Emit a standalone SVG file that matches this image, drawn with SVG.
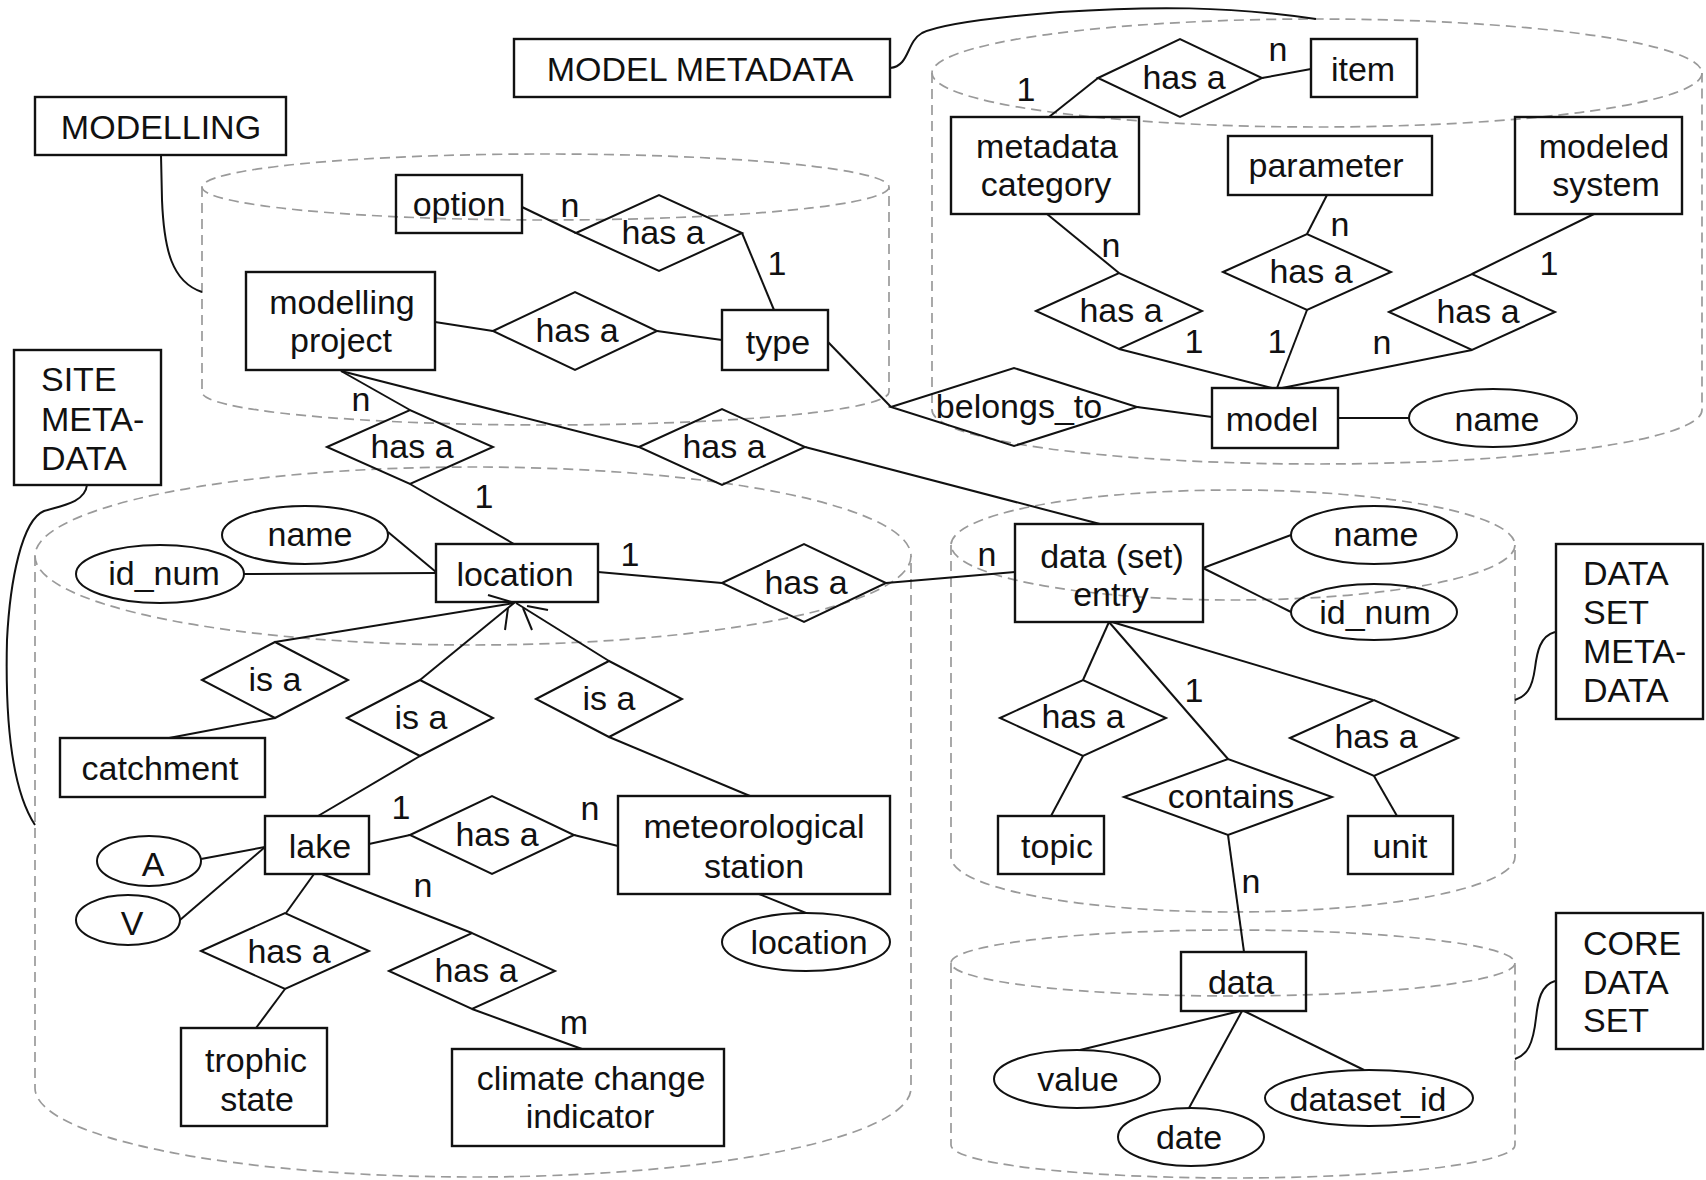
<svg xmlns="http://www.w3.org/2000/svg" width="1706" height="1180" viewBox="0 0 1706 1180">
<style>
.bg{fill:#fff}
.cyl{fill:none;stroke:#9a9a9a;stroke-width:1.7;stroke-dasharray:10 6}
.box{fill:none;stroke:#111;stroke-width:2.4}
.rel{fill:none;stroke:#111;stroke-width:2}
.att{fill:none;stroke:#111;stroke-width:2}
.ln{fill:none;stroke:#111;stroke-width:2}
text{font-family:"Liberation Sans",Arial,sans-serif;font-size:34px;fill:#111}
.c{text-anchor:middle}
</style>
<rect class="bg" x="0" y="0" width="1706" height="1180"/>

<g id="containers">
  <g id="cyl-modelling">
    <ellipse class="cyl" cx="545.5" cy="187" rx="343.5" ry="33"/>
    <path class="cyl" d="M202 187 L202 392 A343.5 33 0 0 0 889 392 L889 187"/>
  </g>
  <g id="cyl-model-metadata">
    <ellipse class="cyl" cx="1317" cy="73" rx="385" ry="54"/>
    <path class="cyl" d="M932 73 L932 410 A385 54 0 0 0 1702 410 L1702 73"/>
  </g>
  <g id="cyl-site-metadata">
    <ellipse class="cyl" cx="473" cy="556" rx="438" ry="89"/>
    <path class="cyl" d="M35 556 L35 1088 A438 89 0 0 0 911 1088 L911 556"/>
  </g>
  <g id="cyl-dataset-metadata">
    <ellipse class="cyl" cx="1233" cy="545" rx="282" ry="55"/>
    <path class="cyl" d="M951 545 L951 857 A282 55 0 0 0 1515 857 L1515 545"/>
  </g>
  <g id="cyl-core-dataset">
    <ellipse class="cyl" cx="1233" cy="963" rx="282" ry="33"/>
    <path class="cyl" d="M951 963 L951 1145 A282 33 0 0 0 1515 1145 L1515 963"/>
  </g>
</g>

<g id="connectors">
  <!-- label braces -->
  <path class="ln" d="M161 155 L162 200 C164 250 172 282 202 292"/>
  <path class="ln" d="M890 68 C910 66 906 42 922 33 C945 22 1010 16 1060 12 C1150 6 1230 6 1316 19"/>
  <path class="ln" d="M87 485 C85 503 60 506 44 511 C22 520 10 580 7 640 C5 720 12 790 35 825"/>
  <path class="ln" d="M1555 632 C1540 636 1537 652 1535 668 C1532 690 1526 696 1515 700"/>
  <path class="ln" d="M1555 981 C1541 985 1538 1000 1536 1018 C1533 1045 1527 1055 1515 1059"/>
  <!-- modelling -->
  <line class="ln" x1="522" y1="207" x2="576" y2="233"/>
  <line class="ln" x1="742" y1="233" x2="774" y2="310"/>
  <line class="ln" x1="435" y1="322" x2="493" y2="331"/>
  <line class="ln" x1="657" y1="331" x2="722" y2="340"/>
  <line class="ln" x1="828" y1="342" x2="891" y2="407"/>
  <line class="ln" x1="1137" y1="407" x2="1212" y2="417"/>
  <line class="ln" x1="341" y1="371" x2="410" y2="410"/>
  <line class="ln" x1="410" y1="484" x2="514" y2="544"/>
  <line class="ln" x1="341" y1="371" x2="639" y2="447"/>
  <line class="ln" x1="805" y1="447" x2="1100" y2="524"/>
  <!-- model metadata -->
  <line class="ln" x1="1262" y1="78" x2="1311" y2="69"/>
  <line class="ln" x1="1098" y1="78" x2="1049" y2="117"/>
  <line class="ln" x1="1047" y1="214" x2="1119" y2="273"/>
  <line class="ln" x1="1119" y1="349" x2="1272" y2="388"/>
  <line class="ln" x1="1327" y1="195" x2="1307" y2="234"/>
  <line class="ln" x1="1307" y1="310" x2="1277" y2="388"/>
  <line class="ln" x1="1594" y1="214" x2="1472" y2="274"/>
  <line class="ln" x1="1472" y1="350" x2="1282" y2="388"/>
  <line class="ln" x1="1338" y1="418" x2="1409" y2="418"/>
  <!-- site -->
  <line class="ln" x1="388" y1="532" x2="436" y2="572"/>
  <line class="ln" x1="244" y1="574" x2="436" y2="573"/>
  <line class="ln" x1="598" y1="572" x2="722" y2="583"/>
  <line class="ln" x1="886" y1="583" x2="1015" y2="572"/>
  <line class="ln" x1="169" y1="738" x2="275" y2="718"/>
  <line class="ln" x1="275" y1="642" x2="514" y2="603"/>
  <line class="ln" x1="420" y1="680" x2="514" y2="603"/>
  <line class="ln" x1="420" y1="756" x2="318" y2="816"/>
  <line class="ln" x1="609" y1="661" x2="516" y2="603"/>
  <line class="ln" x1="609" y1="737" x2="750" y2="796"/>
  <line class="ln" x1="488" y1="595" x2="515" y2="603"/>
  <line class="ln" x1="527" y1="606" x2="548" y2="610"/>
  <line class="ln" x1="508" y1="608" x2="505" y2="630"/>
  <line class="ln" x1="523" y1="608" x2="532" y2="630"/>
  <line class="ln" x1="369" y1="844" x2="410" y2="835"/>
  <line class="ln" x1="574" y1="835" x2="618" y2="846"/>
  <line class="ln" x1="201" y1="859" x2="265" y2="847"/>
  <line class="ln" x1="180" y1="920" x2="265" y2="847"/>
  <line class="ln" x1="314" y1="874" x2="286" y2="913"/>
  <line class="ln" x1="285" y1="989" x2="256" y2="1028"/>
  <line class="ln" x1="322" y1="874" x2="472" y2="933"/>
  <line class="ln" x1="472" y1="1009" x2="582" y2="1049"/>
  <line class="ln" x1="759" y1="894" x2="806" y2="913"/>
  <!-- data set -->
  <line class="ln" x1="1203" y1="568" x2="1291" y2="535"/>
  <line class="ln" x1="1203" y1="568" x2="1291" y2="612"/>
  <line class="ln" x1="1109" y1="622" x2="1083" y2="680"/>
  <line class="ln" x1="1083" y1="756" x2="1051" y2="816"/>
  <line class="ln" x1="1109" y1="622" x2="1228" y2="759"/>
  <line class="ln" x1="1112" y1="622" x2="1373" y2="700"/>
  <line class="ln" x1="1374" y1="776" x2="1397" y2="816"/>
  <line class="ln" x1="1228" y1="835" x2="1244" y2="952"/>
  <line class="ln" x1="1240" y1="1011" x2="1080" y2="1050"/>
  <line class="ln" x1="1242" y1="1011" x2="1189" y2="1108"/>
  <line class="ln" x1="1244" y1="1011" x2="1364" y2="1070"/>
  <!-- cardinalities -->
  <g class="card">
    <text class="c" x="570" y="217">n</text>
    <text class="c" x="777" y="275">1</text>
    <text class="c" x="361" y="411">n</text>
    <text class="c" x="484" y="508">1</text>
    <text class="c" x="630" y="566">1</text>
    <text class="c" x="987" y="566">n</text>
    <text class="c" x="1026" y="101">1</text>
    <text class="c" x="1278" y="61">n</text>
    <text class="c" x="1111" y="257">n</text>
    <text class="c" x="1340" y="236">n</text>
    <text class="c" x="1549" y="275">1</text>
    <text class="c" x="1194" y="353">1</text>
    <text class="c" x="1277" y="353">1</text>
    <text class="c" x="1382" y="354">n</text>
    <text class="c" x="401" y="819">1</text>
    <text class="c" x="590" y="820">n</text>
    <text class="c" x="423" y="897">n</text>
    <text class="c" x="574" y="1034">m</text>
    <text class="c" x="1194" y="702">1</text>
    <text class="c" x="1251" y="893">n</text>
  </g>
</g>

<!-- section labels -->
<g id="lbl-model-metadata"><rect class="box" x="514" y="39" width="376" height="58"/><text class="c" x="700" y="81">MODEL METADATA</text></g>
<g id="lbl-modelling"><rect class="box" x="35" y="97" width="251" height="58"/><text class="c" x="161" y="139">MODELLING</text></g>
<g id="lbl-site-metadata"><rect class="box" x="14" y="350" width="147" height="135"/><text x="41" y="391">SITE</text><text x="41" y="431">META-</text><text x="41" y="470">DATA</text></g>
<g id="lbl-dataset-metadata"><rect class="box" x="1556" y="544" width="147" height="175"/><text x="1583" y="585">DATA</text><text x="1583" y="624">SET</text><text x="1583" y="663">META-</text><text x="1583" y="702">DATA</text></g>
<g id="lbl-core-dataset"><rect class="box" x="1556" y="913" width="147" height="136"/><text x="1583" y="955">CORE</text><text x="1583" y="994">DATA</text><text x="1583" y="1032">SET</text></g>

<!-- modelling entities -->
<g id="option"><rect class="box" x="396" y="175" width="126" height="58"/><text class="c" x="459" y="216">option</text></g>
<g id="modelling-project"><rect class="box" x="246" y="272" width="189" height="98"/><text class="c" x="342" y="314">modelling</text><text class="c" x="341" y="352">project</text></g>
<g id="type"><rect class="box" x="722" y="310" width="106" height="60"/><text class="c" x="778" y="354">type</text></g>
<g id="rel-option-type"><polygon class="rel" points="576,233 659,195 742,233 659,271"/><text class="c" x="663" y="244">has a</text></g>
<g id="rel-project-type"><polygon class="rel" points="493,331 575,292 657,331 575,370"/><text class="c" x="577" y="342">has a</text></g>
<g id="rel-belongs-to"><polygon class="rel" points="891,407 1014,368 1137,407 1014,446"/><text class="c" x="1019" y="418">belongs_to</text></g>
<g id="rel-project-location"><polygon class="rel" points="327,447 410,410 493,447 410,484"/><text class="c" x="412" y="458">has a</text></g>
<g id="rel-project-dataset"><polygon class="rel" points="639,447 722,409 805,447 722,485"/><text class="c" x="724" y="458">has a</text></g>

<!-- model metadata entities -->
<g id="item"><rect class="box" x="1311" y="39" width="106" height="58"/><text class="c" x="1363" y="81">item</text></g>
<g id="metadata-category"><rect class="box" x="951" y="117" width="188" height="97"/><text class="c" x="1047" y="158">metadata</text><text class="c" x="1046" y="196">category</text></g>
<g id="parameter"><rect class="box" x="1228" y="136" width="204" height="59"/><text class="c" x="1326" y="177">parameter</text></g>
<g id="modeled-system"><rect class="box" x="1515" y="117" width="167" height="97"/><text class="c" x="1604" y="158">modeled</text><text class="c" x="1606" y="196">system</text></g>
<g id="model"><rect class="box" x="1212" y="388" width="126" height="60"/><text class="c" x="1272" y="431">model</text></g>
<g id="model-name"><ellipse class="att" cx="1493" cy="418" rx="84" ry="29"/><text class="c" x="1497" y="431">name</text></g>
<g id="rel-category-item"><polygon class="rel" points="1098,78 1180,39 1262,78 1180,117"/><text class="c" x="1184" y="89">has a</text></g>
<g id="rel-category-model"><polygon class="rel" points="1036,311 1119,273 1202,311 1119,349"/><text class="c" x="1121" y="322">has a</text></g>
<g id="rel-parameter-model"><polygon class="rel" points="1223,272 1307,234 1391,272 1307,310"/><text class="c" x="1311" y="283">has a</text></g>
<g id="rel-system-model"><polygon class="rel" points="1389,312 1472,274 1555,312 1472,350"/><text class="c" x="1478" y="323">has a</text></g>

<!-- site entities -->
<g id="location"><rect class="box" x="436" y="544" width="162" height="58"/><text class="c" x="515" y="586">location</text></g>
<g id="site-name"><ellipse class="att" cx="305" cy="535" rx="83" ry="29"/><text class="c" x="310" y="546">name</text></g>
<g id="site-id-num"><ellipse class="att" cx="160" cy="574" rx="84" ry="29"/><text class="c" x="164" y="585">id_num</text></g>
<g id="rel-location-dataset"><polygon class="rel" points="722,583 804,544 886,583 804,622"/><text class="c" x="806" y="594">has a</text></g>
<g id="catchment"><rect class="box" x="60" y="738" width="205" height="59"/><text class="c" x="160" y="780">catchment</text></g>
<g id="rel-catchment-isa"><polygon class="rel" points="202,680 275,642 348,680 275,718"/><text class="c" x="275" y="691">is a</text></g>
<g id="rel-lake-isa"><polygon class="rel" points="347,718 420,680 493,718 420,756"/><text class="c" x="421" y="729">is a</text></g>
<g id="rel-station-isa"><polygon class="rel" points="536,699 609,661 682,699 609,737"/><text class="c" x="609" y="710">is a</text></g>
<g id="lake"><rect class="box" x="265" y="816" width="104" height="58"/><text class="c" x="320" y="858">lake</text></g>
<g id="lake-a"><ellipse class="att" cx="149" cy="861" rx="52" ry="25"/><text class="c" x="153" y="876">A</text></g>
<g id="lake-v"><ellipse class="att" cx="128" cy="920" rx="52" ry="25"/><text class="c" x="132" y="935">V</text></g>
<g id="rel-lake-station"><polygon class="rel" points="410,835 492,796 574,835 492,874"/><text class="c" x="497" y="846">has a</text></g>
<g id="meteorological-station"><rect class="box" x="618" y="796" width="272" height="98"/><text class="c" x="754" y="838">meteorological</text><text class="c" x="754" y="878">station</text></g>
<g id="station-location"><ellipse class="att" cx="806" cy="942" rx="84" ry="29"/><text class="c" x="809" y="954">location</text></g>
<g id="rel-lake-trophic"><polygon class="rel" points="201,951 285,913 369,951 285,989"/><text class="c" x="289" y="963">has a</text></g>
<g id="rel-lake-climate"><polygon class="rel" points="389,971 472,933 555,971 472,1009"/><text class="c" x="476" y="982">has a</text></g>
<g id="trophic-state"><rect class="box" x="181" y="1028" width="146" height="98"/><text class="c" x="256" y="1072">trophic</text><text class="c" x="257" y="1111">state</text></g>
<g id="climate-change-indicator"><rect class="box" x="452" y="1049" width="272" height="97"/><text class="c" x="591" y="1090">climate change</text><text class="c" x="590" y="1128">indicator</text></g>

<!-- data set metadata entities -->
<g id="dataset-entry"><rect class="box" x="1015" y="524" width="188" height="98"/><text class="c" x="1112" y="568">data (set)</text><text class="c" x="1111" y="606">entry</text></g>
<g id="dataset-name"><ellipse class="att" cx="1374" cy="535" rx="83" ry="29"/><text class="c" x="1376" y="546">name</text></g>
<g id="dataset-id-num"><ellipse class="att" cx="1374" cy="612" rx="83" ry="28"/><text class="c" x="1375" y="624">id_num</text></g>
<g id="rel-entry-topic"><polygon class="rel" points="1000,718 1083,680 1166,718 1083,756"/><text class="c" x="1083" y="728">has a</text></g>
<g id="topic"><rect class="box" x="998" y="816" width="106" height="58"/><text class="c" x="1057" y="858">topic</text></g>
<g id="rel-contains"><polygon class="rel" points="1124,797 1228,759 1332,797 1228,835"/><text class="c" x="1231" y="808">contains</text></g>
<g id="rel-entry-unit"><polygon class="rel" points="1290,738 1374,700 1458,738 1374,776"/><text class="c" x="1376" y="748">has a</text></g>
<g id="unit"><rect class="box" x="1348" y="816" width="105" height="58"/><text class="c" x="1400" y="858">unit</text></g>

<!-- core data set entities -->
<g id="data"><rect class="box" x="1181" y="952" width="125" height="59"/><text class="c" x="1241" y="994">data</text></g>
<g id="data-value"><ellipse class="att" cx="1077" cy="1079" rx="83" ry="29"/><text class="c" x="1078" y="1091">value</text></g>
<g id="data-date"><ellipse class="att" cx="1191" cy="1137" rx="73" ry="29"/><text class="c" x="1189" y="1149">date</text></g>
<g id="data-dataset-id"><ellipse class="att" cx="1369" cy="1098" rx="104" ry="28"/><text class="c" x="1368" y="1111">dataset_id</text></g>
</svg>
